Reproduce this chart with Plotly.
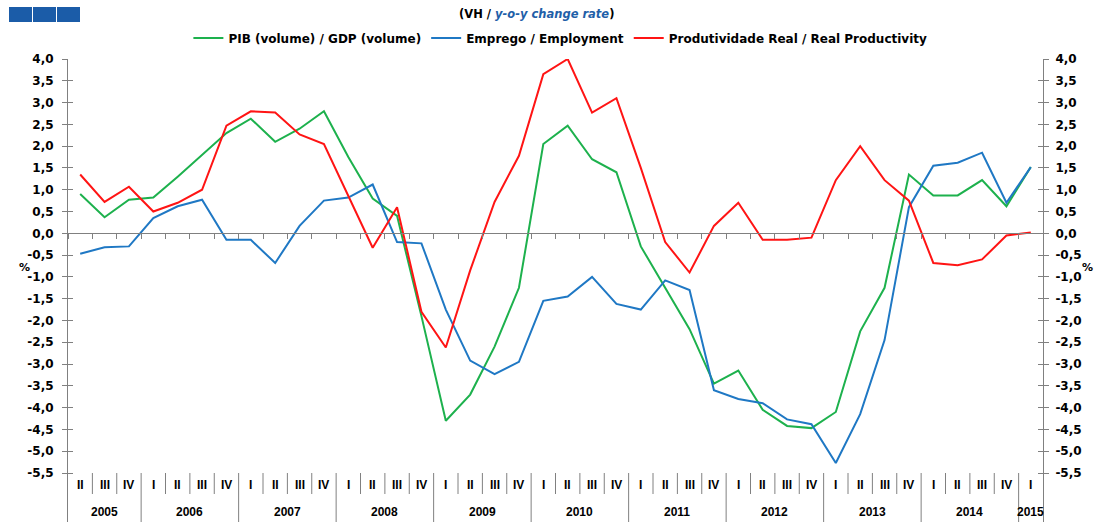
import plotly.graph_objects as go

# ---------------- data ----------------
years = ["2005"] * 3 + [y for y in ["2006", "2007", "2008", "2009", "2010", "2011", "2012", "2013", "2014"] for _ in range(4)] + ["2015"]
quarters = ["II", "III", "IV"] + ["I", "II", "III", "IV"] * 9 + ["I"]
categories = [f"{q} {y}" for q, y in zip(quarters, years)]

gdp = [0.90, 0.37, 0.77, 0.82, 1.30, 1.80, 2.30, 2.63, 2.10, 2.40, 2.80, 1.75, 0.80, 0.40,
       -1.90, -4.30, -3.70, -2.60, -1.25, 2.05, 2.47, 1.70, 1.40, -0.30, -1.25, -2.20,
       -3.45, -3.15, -4.05, -4.42, -4.47, -4.10, -2.25, -1.25, 1.35, 0.87, 0.87, 1.22,
       0.62, 1.52]
employment = [-0.47, -0.32, -0.30, 0.35, 0.62, 0.77, -0.15, -0.15, -0.68, 0.17, 0.75, 0.82,
              1.12, -0.20, -0.23, -1.75, -2.92, -3.23, -2.95, -1.55, -1.45, -1.00, -1.62,
              -1.75, -1.08, -1.30, -3.60, -3.80, -3.90, -4.27, -4.38, -5.27, -4.15, -2.45,
              0.60, 1.55, 1.62, 1.85, 0.70, 1.52]
productivity = [1.35, 0.72, 1.07, 0.50, 0.70, 1.00, 2.47, 2.80, 2.77, 2.27, 2.05, 0.85, -0.33,
                0.60, -1.80, -2.62, -0.85, 0.72, 1.78, 3.65, 4.00, 2.77, 3.10, 1.50, -0.20,
                -0.90, 0.17, 0.70, -0.15, -0.15, -0.10, 1.22, 2.00, 1.22, 0.75, -0.68, -0.73,
                -0.60, -0.05, 0.02]

tick_vals = [v / 2 for v in range(-11, 9)]
tick_text = [f"{v:.1f}".replace(".", ",") for v in tick_vals]

series_names = ["PIB (volume) / GDP (volume)", "Emprego / Employment",
                "Produtividade Real / Real Productivity"]
series_colors = ["#1db14d", "#1f78c4", "#ff1414"]

# ---------------- layout constants ----------------
W, H = 1104, 522
ML, MR, MT, MB = 68, 61, 59, 0
PX_PER_UNIT = 414 / 9.5
Y_TOP = 4.0
Y_BOT = Y_TOP - (H - MT - MB) / PX_PER_UNIT
AXIS_GREY = "#808080"
FONT = "Liberation Sans"
WIDE = "DejaVu Sans"

fig = go.Figure()
for name, vals, col in zip(series_names, [gdp, employment, productivity], series_colors):
    fig.add_trace(go.Scatter(x=categories, y=vals, name=name, mode="lines",
                             line=dict(color=col, width=2)))
# empty helper traces so the overlay axes are drawn
for ax in ("y2", "y3", "y4"):
    fig.add_trace(go.Scatter(x=[], y=[], yaxis=ax, showlegend=False, hoverinfo="skip"))

n = len(categories)
zero_pos = (0 - Y_BOT) / (Y_TOP - Y_BOT)

tickfont = dict(family=WIDE, size=12, color="#000000", weight="bold")
common_y = dict(range=[Y_BOT, Y_TOP], tickvals=tick_vals, showgrid=False, zeroline=False,
                fixedrange=True)

fig.update_layout(
    width=W, height=H,
    margin=dict(l=ML, r=MR, t=MT, b=MB),
    plot_bgcolor="white", paper_bgcolor="white",
    font=dict(family=FONT, size=12, color="#000000"),
    showlegend=True,
    legend=dict(orientation="h", x=0.505, xanchor="center", y=(H - 38) / (H - MT), yanchor="middle",
                font=dict(family=WIDE, size=12, color="#000000", weight="bold"),
                itemwidth=30, tracegroupgap=0, bgcolor="rgba(0,0,0,0)"),
    xaxis=dict(type="category", range=[-0.5, n - 0.5], anchor="free", position=zero_pos,
               showline=True, linecolor=AXIS_GREY, linewidth=1, ticks="outside",
               tickson="boundaries", ticklen=5, tickcolor=AXIS_GREY, showticklabels=False,
               showgrid=False, zeroline=False, fixedrange=True),
    yaxis=dict(**common_y, ticktext=tick_text, side="left", showline=True, linecolor=AXIS_GREY,
               linewidth=1, ticks="outside", ticklen=5, tickcolor=AXIS_GREY, tickfont=tickfont,
               ticklabelstandoff=6),
    yaxis2=dict(**common_y, ticktext=tick_text, side="right", overlaying="y", anchor="x",
                showline=True, linecolor=AXIS_GREY, linewidth=1, ticks="outside", ticklen=5,
                tickcolor=AXIS_GREY, tickfont=tickfont, ticklabelstandoff=4),
    yaxis3=dict(**common_y, side="left", overlaying="y", anchor="x", showline=False,
                ticks="inside", ticklen=5, tickcolor=AXIS_GREY, showticklabels=False),
    yaxis4=dict(**common_y, side="right", overlaying="y", anchor="x", showline=False,
                ticks="inside", ticklen=5, tickcolor=AXIS_GREY, showticklabels=False),
)

def py_to_y(py):
    return Y_TOP - (py - MT) / PX_PER_UNIT

def px_to_paper_x(px):
    return (px - ML) / (W - ML - MR)

def py_to_paper_y(py):
    return (H - MB - py) / (H - MT - MB)

shapes = []
annotations = []

label_font = dict(family=FONT, size=12, color="#000000", weight="bold")
# bottom category labels and separators
sep_top, sep_q_bot, sep_y_bot = py_to_y(473), py_to_y(494), Y_BOT
for i, q in enumerate(quarters):
    annotations.append(dict(x=i, y=py_to_y(485), xref="x", yref="y", text=q, showarrow=False,
                            font=label_font, yanchor="middle"))
    if i > 0:
        new_year = years[i] != years[i - 1]
        shapes.append(dict(type="line", xref="x", yref="y", x0=i - 0.5, x1=i - 0.5,
                           y0=sep_top, y1=sep_y_bot if new_year else sep_q_bot,
                           line=dict(color=AXIS_GREY, width=1)))
# year labels
unique_years = []
for y in years:
    if y not in unique_years:
        unique_years.append(y)
for y in unique_years:
    idx = [i for i, yy in enumerate(years) if yy == y]
    annotations.append(dict(x=(idx[0] + idx[-1]) / 2, y=py_to_y(512), xref="x", yref="y", text=y,
                            showarrow=False, font=label_font, yanchor="middle"))

# title
annotations.append(dict(x=px_to_paper_x(536), y=py_to_paper_y(14), xref="paper", yref="paper",
                        yanchor="middle",
                        text="(VH / <i><span style='color:#1f5fa8'>y-o-y change rate</span></i>)",
                        showarrow=False, font=dict(family=WIDE, size=11.5, color="#000000",
                                                   weight="bold")))
# % labels
for px in (17, 1095):
    annotations.append(dict(x=px_to_paper_x(px), y=py_to_paper_y(267), xref="paper", yref="paper",
                            text="%", showarrow=False, yanchor="middle",
                            font=dict(family=WIDE, size=11, color="#000000", weight="bold")))

# logo squares
for k in range(3):
    x0 = 9 + k * 24
    shapes.append(dict(type="rect", xref="paper", yref="paper",
                       x0=px_to_paper_x(x0), x1=px_to_paper_x(x0 + 23),
                       y0=py_to_paper_y(22), y1=py_to_paper_y(7),
                       fillcolor="#1b5ca8", line=dict(width=0)))

fig.update_layout(shapes=shapes, annotations=annotations)
fig.write_html("out.html", config={"displayModeBar": False},
               post_script="document.body.style.margin='0px';")
